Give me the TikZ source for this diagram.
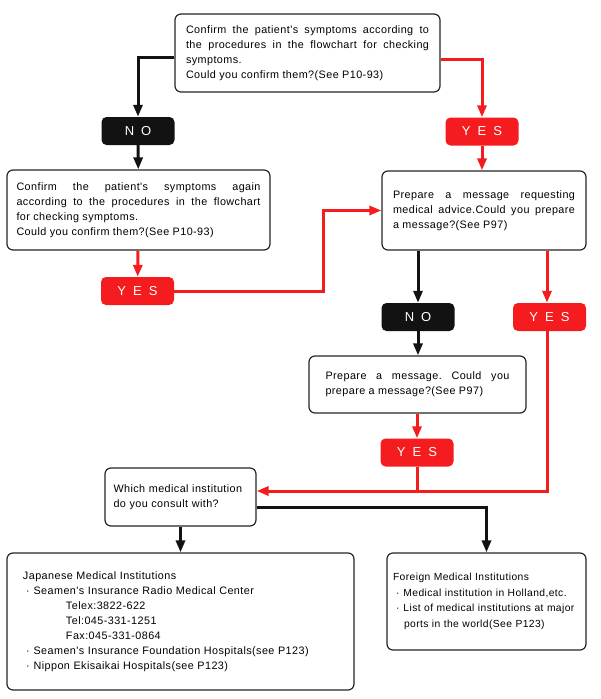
\documentclass[tikz,border=0pt]{standalone}
\usepackage{fontspec}
\setmainfont{Liberation Sans}
\newfontfamily\txtfont[LetterSpace=4]{Liberation Sans}
\usepackage{xcolor}
\usepackage{tikz}
\usetikzlibrary{positioning,arrows.meta,calc}
\definecolor{yesred}{RGB}{245,28,32}
\definecolor{noblack}{RGB}{18,18,18}
\frenchspacing
\hyphenpenalty=10000
\tikzset{
  qbox/.style  ={rectangle, rounded corners=6pt, draw=black!85, line width=1.2pt,
                 fill=white, align=justify, inner ysep=4pt,
                 font=\txtfont\fontsize{10.8}{15}\selectfont},
  lbox/.style  ={qbox, align=left, anchor=center},
  nolab/.style ={rectangle, rounded corners=5pt, fill=noblack, text=white,
                 minimum width=73pt, minimum height=28pt, inner sep=0pt,
                 font=\fontsize{13}{14}\selectfont},
  yeslab/.style={nolab, fill=yesred},
  barr/.style  ={-{Triangle[length=12pt,width=9pt]}, line width=3pt, draw=noblack},
  rarr/.style  ={-{Triangle[length=12pt,width=9pt]}, line width=3pt, draw=yesred},
  rline/.style ={line width=3pt, draw=yesred},
}
\begin{document}
\begin{tikzpicture}[x=1pt, y=-1pt]
  \useasboundingbox (0,0) rectangle (600,699);

  \node[qbox, text width=243pt, inner xsep=11pt, minimum height=78pt] (q1) at (307.5,53)
    {Confirm the patient's symptoms according to\linebreak the procedures in the flowchart for checking\linebreak symptoms.\\Could you confirm them?(See P10-93)};

  \node[nolab] (no1) at (138,131) {N\hspace{7pt}O};
  \node[yeslab] (yes2) at (482,131.5) {Y\hspace{7pt}E\hspace{7pt}S};

  \node[qbox, text width=244pt, inner xsep=9.5pt, minimum height=80pt] (q2) at (138.5,210)
    {Confirm the patient's symptoms again\linebreak according to the procedures in the flowchart\linebreak for checking symptoms.\\Could you confirm them?(See P10-93)};
  \node[qbox, text width=182pt, inner xsep=11pt, minimum height=79pt] (q3) at (484,210.5)
    {Prepare a message requesting\linebreak medical advice.Could you prepare\linebreak a message?(See P97)};

  \node[yeslab] (yes1) at (137.5,291) {Y\hspace{7pt}E\hspace{7pt}S};
  \node[nolab] (no2) at (418,317) {N\hspace{7pt}O};
  \node[yeslab] (yes3) at (549.5,317) {Y\hspace{7pt}E\hspace{7pt}S};

  \node[qbox, text width=184pt, inner xsep=16.5pt, minimum height=57pt] (q4) at (417.5,384.5)
    {Prepare a message. Could you\linebreak prepare a message?(See P97)};
  \node[yeslab] (yes4) at (417,452.5) {Y\hspace{7pt}E\hspace{7pt}S};

  \node[lbox, text width=134pt, inner xsep=8.5pt, minimum height=58pt] (q5) at (180.5,497)
    {Which medical institution\\do you consult with?};

  \node[lbox, text width=315pt, inner xsep=16pt, minimum height=137pt] (jp) at (180.5,621.5)
    {Japanese Medical Institutions\\
     \hspace{3pt}·\hspace{4pt}Seamen's Insurance Radio Medical Center\\
     \hspace{43pt}Telex:3822-622\\
     \hspace{43pt}Tel:045-331-1251\\
     \hspace{43pt}Fax:045-331-0864\\
     \hspace{3pt}·\hspace{4pt}Seamen's Insurance Foundation Hospitals(see P123)\\
     \hspace{3pt}·\hspace{4pt}Nippon Ekisaikai Hospitals(see P123)};
  \node[lbox, text width=187pt, inner xsep=6pt, minimum height=97pt,
        font=\txtfont\fontsize{10.3}{15.5}\selectfont] (fr) at (486.5,601.5)
    {Foreign Medical Institutions\\
     \hspace{3pt}·\hspace{4pt}Medical institution in Holland,etc.\\
     \hspace{3pt}·\hspace{4pt}List of medical institutions at major\\
     \hspace{11pt}ports in the world(See P123)};

  \coordinate (mid) at ([yshift=6pt]q5.east);

  \draw[barr] ([yshift=-4pt]q1.west) -| (no1.north);
  \draw[rarr] ([yshift=-6pt]q1.east) -| (yes2.north);
  \draw[barr] (no1) -- (q2);
  \draw[rarr] (yes2.south) -- (yes2.south |- q3.north);
  \draw[rarr] (q2) -- (yes1);
  \draw[rarr] (yes1.east) -| ([xshift=-58pt]q3.west) -- (q3.west);
  \draw[barr] (q3.south -| no2.north) -- (no2.north);
  \draw[rarr] ([xshift=-2.5pt]q3.south -| yes3.north) -- ([xshift=-2.5pt]yes3.north);
  \draw[barr] (no2.south) -- (no2.south |- q4.north);
  \draw[rarr] (q4.south -| yes4) -- (yes4.north);
  \draw[rarr] ([xshift=-2.5pt]yes3.south) |- (mid);
  \draw[rline] (yes4.south) -- (yes4.south |- mid);
  \draw[barr] ([yshift=-10pt]q5.east) -| (fr.north);
  \draw[barr] (q5) -- (jp);
\end{tikzpicture}
\end{document}
